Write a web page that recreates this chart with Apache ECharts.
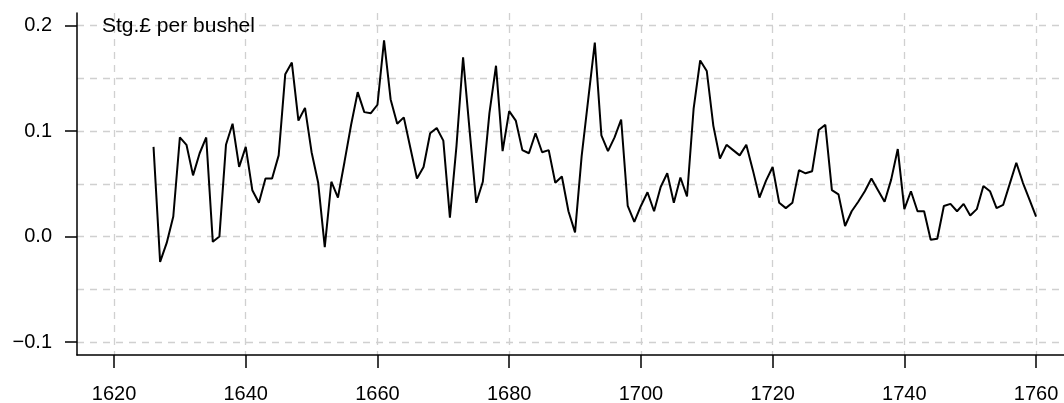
<!DOCTYPE html>
<html>
<head>
<meta charset="utf-8">
<script src="https://cdn.jsdelivr.net/npm/echarts@6/dist/echarts.min.js"></script>
<style>
	html, body { margin: 0; padding: 0; background: #fff; }
	#main { width: 1064px; height: 403px; }
</style>
</head>
<body>
<div id="main"></div>
<script>
// wheat price, Stg.£ per bushel, one value per year from 1626
var firstYear = 1626;
var price1626 = [0.085, -0.024, -0.006, 0.019, 0.094, 0.087, 0.058, 0.079, 0.094, -0.005,
	0.000, 0.087, 0.107, 0.066, 0.085, 0.044, 0.032, 0.055, 0.055, 0.077,
	0.154, 0.165, 0.110, 0.122, 0.080, 0.051, -0.010, 0.052, 0.037, 0.071,
	0.106, 0.137, 0.118, 0.117];
var price1660 = [0.125, 0.186, 0.130, 0.107, 0.113, 0.084, 0.055, 0.066, 0.098, 0.103,
	0.091, 0.018, 0.086, 0.170, 0.100, 0.032, 0.052, 0.117, 0.162, 0.081,
	0.119, 0.110, 0.082, 0.079, 0.098, 0.080, 0.082, 0.051, 0.057, 0.024,
	0.004, 0.076, 0.130, 0.184, 0.096, 0.081, 0.094, 0.111, 0.029, 0.014];
var price1700 = [0.029, 0.042, 0.024, 0.047, 0.060, 0.032, 0.056, 0.038, 0.121, 0.167,
	0.157, 0.105, 0.074, 0.087, 0.082, 0.077, 0.087, 0.063, 0.037, 0.053,
	0.066, 0.032, 0.027, 0.032, 0.063, 0.060, 0.062, 0.101, 0.106, 0.044,
	0.040, 0.010];
var price1732 = [0.024, 0.033, 0.043, 0.055, 0.044, 0.033, 0.054, 0.083, 0.026, 0.043,
	0.024, 0.024, -0.003, -0.002, 0.029, 0.031, 0.024, 0.031, 0.020, 0.026,
	0.048, 0.043, 0.027, 0.030, 0.050, 0.070, 0.051, 0.035, 0.019];

var xTicks = [1620, 1640, 1660, 1680, 1700, 1720, 1740, 1760];
var yTicks = [-0.1, 0.0, 0.1, 0.2];
var yGrid = [-0.1, -0.05, 0.0, 0.05, 0.1, 0.15, 0.2];

var prices = price1626.concat(price1660, price1700, price1732);
var points = [];
for (var i = 0; i < prices.length; i++) {
	points.push([firstYear + i, prices[i]]);
}

var font = 'Liberation Sans, Arial, sans-serif';
var gridLine = { show: true, lineStyle: { color: '#d0d0d0', width: 1.3, type: [7, 6] } };

var myChart = echarts.init(document.getElementById('main'), null, { renderer: 'canvas' });
var option = {
	animation: false,
	backgroundColor: '#fff',
	title: {
		text: 'Stg.£ per bushel',
		left: 102,
		top: 16,
		padding: 0,
		textStyle: { fontFamily: font, fontSize: 21, fontWeight: 'normal', color: '#000' }
	},
	grid: { left: 77, top: 13, right: 0, bottom: 48, outerBoundsMode: 'none', containLabel: false },
	xAxis: [{
		type: 'value',
		min: 1614.38,
		max: 1764.24,
		axisLine: { show: true, onZero: false, lineStyle: { color: '#000', width: 1.5 } },
		axisTick: { show: true, inside: false, length: 13, customValues: xTicks,
			lineStyle: { color: '#000', width: 1.5 } },
		axisLabel: { customValues: xTicks, margin: 29, color: '#000', fontFamily: font, fontSize: 20,
			formatter: function(v) { return String(v); } },
		splitLine: gridLine
	}],
	yAxis: [{
		type: 'value',
		min: -0.1123,
		max: 0.212,
		axisLine: { show: true, onZero: false, lineStyle: { color: '#000', width: 1.5 } },
		axisTick: { show: true, inside: false, length: 12, customValues: yTicks,
			lineStyle: { color: '#000', width: 1.5 } },
		axisLabel: { customValues: yTicks, margin: 25, color: '#000', fontFamily: font, fontSize: 20,
			formatter: function(v) { return v.toFixed(1).replace('-', '\u2212'); } },
		splitLine: { show: false }
	}, {
		type: 'value',
		position: 'left',
		min: -0.1123,
		max: 0.212,
		axisLine: { show: false, onZero: false },
		axisTick: { show: false, customValues: yGrid },
		axisLabel: { show: false },
		splitLine: gridLine
	}],
	series: [{
		type: 'line',
		data: points,
		yAxisIndex: 0,
		symbol: 'none',
		z: 5,
		lineStyle: { color: '#000', width: 2 }
	}]
};

if (option && typeof option === "object") {
	myChart.setOption(option, true);
}
</script>
</body>
</html>
